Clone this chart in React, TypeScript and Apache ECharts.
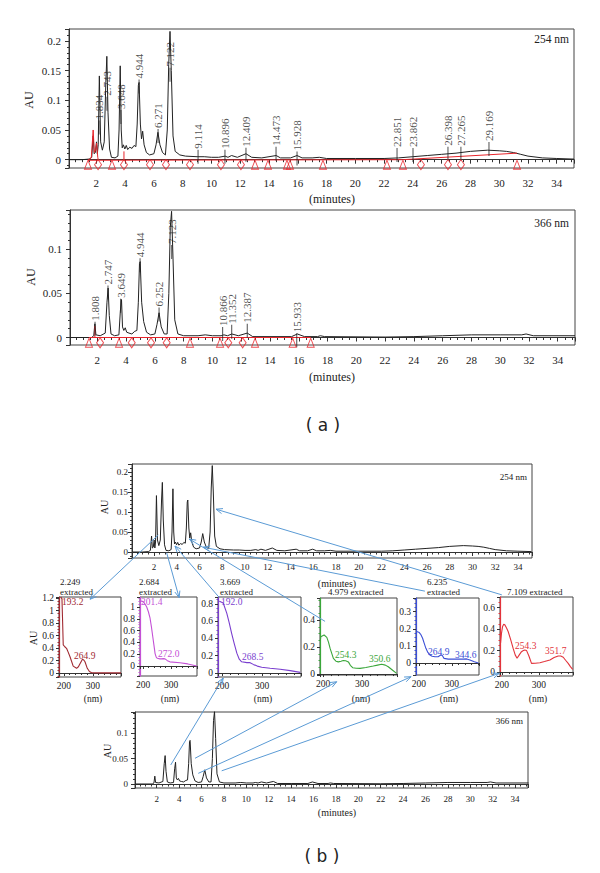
import React, { useEffect, useRef } from 'react';
import * as echarts from 'echarts';

// ---------------- data ----------------
// 254 nm chromatogram (minutes, AU)
const trace254: number[][] = [
  [0.1, 0.0], [1.0, 0.0], [1.5, 0.001], [1.68, 0.004], [1.78, 0.04], [1.85, 0.01], [1.93, 0.012], [2.01, 0.03],
  [2.07, 0.01], [2.13, 0.025], [2.21, 0.141], [2.3, 0.03], [2.42, 0.016], [2.55, 0.03], [2.66, 0.13], [2.73, 0.174],
  [2.81, 0.08], [2.92, 0.018], [3.05, 0.004], [3.3, 0.003], [3.5, 0.006], [3.58, 0.05], [3.66, 0.158], [3.73, 0.05],
  [3.8, 0.02], [3.88, 0.025], [3.98, 0.018], [4.08, 0.024], [4.18, 0.017], [4.32, 0.021], [4.48, 0.019], [4.62, 0.024],
  [4.75, 0.022], [4.84, 0.06], [4.92, 0.125], [4.97, 0.13], [5.06, 0.06], [5.14, 0.035], [5.22, 0.048], [5.32, 0.025],
  [5.48, 0.012], [5.7, 0.008], [6.0, 0.01], [6.15, 0.025], [6.28, 0.046], [6.42, 0.025], [6.6, 0.012], [6.8, 0.008],
  [6.93, 0.05], [7.03, 0.16], [7.12, 0.216], [7.21, 0.15], [7.33, 0.04], [7.48, 0.014], [7.8, 0.008], [8.2, 0.006],
  [9.0, 0.005], [9.5, 0.005], [10.0, 0.004], [10.5, 0.004], [10.95, 0.006], [11.15, 0.004], [11.4, 0.007], [11.8, 0.004],
  [12.4, 0.01], [12.8, 0.004], [13.5, 0.003], [14.5, 0.007], [14.8, 0.003], [15.5, 0.003], [15.95, 0.007], [16.3, 0.003],
  [17.0, 0.003], [17.5, 0.004], [18, 0.002], [20, 0.002], [22, 0.002], [23, 0.003], [24, 0.005], [25, 0.007],
  [26, 0.009], [27, 0.011], [28, 0.014], [29.2, 0.016], [30, 0.015], [30.5, 0.014], [31, 0.012], [31.5, 0.009],
  [32, 0.006], [33, 0.003], [34, 0.002], [35.2, 0.001],
];
const red254Peaks: number[][] = [
  [1.42, -0.001], [1.65, 0.003], [1.78, 0.05], [1.86, 0.012], [1.95, 0.016], [2.02, 0.028], [2.1, 0.004], [2.13, 0.0],
];
const red254Tick: number[][] = [[3.92, 0.0], [3.92, 0.014]];
const red254Base: number[][] = [[1.42, -0.001], [23.3, 0.0], [31.24, 0.011]];
const peakNames254 = ['1.834', '2.743', '3.648', '4.944', '6.271', '7.122', '9.114', '10.896', '12.409', '14.473', '15.928', '22.851', '23.862', '26.398', '27.265', '29.169'];
const peakTimes254 = [2.19, 2.74, 3.71, 4.97, 6.29, 7.12, 9.07, 10.94, 12.4, 14.49, 15.95, 22.9, 24.01, 26.44, 27.34, 29.29];
const peakTickAU254 = [0.054, 0.094, 0.072, 0.123, 0.04, 0.143, 0.005, 0.005, 0.0084, 0.01, 0.002, 0.008, 0.008, 0.01, 0.01, 0.018];
const triangles254 = [1.42, 3.09, 13.03, 13.93, 15.25, 15.46, 17.75, 22.2, 23.31, 31.24];
const diamonds254 = [2.12, 3.92, 5.73, 6.84, 8.51, 10.66, 12.05, 24.56, 26.44, 27.34];

// 366 nm chromatogram (minutes, AU)
const trace366: number[][] = [
  [0.1, 0], [1.6, 0], [1.75, 0.002], [1.83, 0.0155], [1.9, 0.003], [2.2, 0.002], [2.55, 0.005], [2.67, 0.04],
  [2.75, 0.056], [2.83, 0.025], [2.95, 0.004], [3.2, 0.002], [3.5, 0.003], [3.6, 0.03], [3.68, 0.043], [3.75, 0.012],
  [3.84, 0.008], [3.94, 0.011], [4.04, 0.006], [4.2, 0.005], [4.4, 0.004], [4.6, 0.007], [4.75, 0.008], [4.85, 0.04],
  [4.93, 0.084], [4.98, 0.086], [5.08, 0.04], [5.22, 0.018], [5.42, 0.006], [5.7, 0.003], [6.0, 0.004], [6.15, 0.015],
  [6.29, 0.028], [6.44, 0.012], [6.65, 0.004], [6.85, 0.004], [6.97, 0.05], [7.07, 0.125], [7.16, 0.143], [7.26, 0.09],
  [7.38, 0.02], [7.6, 0.004], [8.0, 0.002], [9.0, 0.002], [9.5, 0.003], [10.0, 0.002], [10.6, 0.002], [10.8, 0.003],
  [11.05, 0.002], [11.35, 0.004], [11.8, 0.002], [12.42, 0.005], [12.8, 0.001], [14, 0.001], [15.5, 0.001], [15.9, 0.004],
  [16.4, 0.001], [17.3, 0.001], [17.5, 0.002], [17.8, 0.001], [22, 0.0005], [24, 0.001], [26, 0.002], [28, 0.003],
  [30, 0.003], [31.5, 0.003], [31.8, 0.004], [32.3, 0.002], [35.2, 0.002],
];
const red366Tick: number[][] = [[1.83, 0.0], [1.83, 0.013]];
const red366Base: number[][] = [[1.42, 0.0], [16.83, 0.0]];
const peakNames366 = ['1.808', '2.747', '3.649', '4.944', '6.252', '7.123', '10.866', '11.352', '12.387', '15.933'];
const peakTimes366 = [1.84, 2.74, 3.62, 4.97, 6.29, 7.17, 10.71, 11.34, 12.42, 15.86];
const peakTickAU366 = [0.0099, 0.051, 0.036, 0.082, 0.026, 0.097, 0.004, 0.0065, 0.0076, -0.003];
const triangles366 = [1.42, 3.51, 8.44, 10.53, 12.96, 15.58, 16.83];
const diamonds366 = [2.19, 4.39, 5.73, 6.82, 11.1, 12.1];

// extracted UV spectra (nm, AU)
const spec2249: number[][] = [
  [189, 1.22], [191, 1.2], [193.2, 1.19], [195, 0.9], [197.6, 0.45], [203, 0.42], [209, 0.395], [215, 0.33], [221, 0.26],
  [232, 0.11], [243.6, 0.075], [250, 0.1], [255, 0.144], [264, 0.22], [268, 0.21], [272.7, 0.18], [280.6, 0.075],
  [288, 0.025], [295.6, 0.005], [320, 0.002], [397, 0.002],
];
const spec2684: number[][] = [
  [192, 1.1], [195, 1.1], [201.4, 1.09], [207, 1.05], [213, 1.0], [219, 0.92], [225, 0.81], [230, 0.66], [234.6, 0.5],
  [239, 0.35], [243, 0.21], [247, 0.15], [251, 0.13], [260, 0.12], [267, 0.12], [272, 0.125], [278.6, 0.12], [287, 0.09],
  [296, 0.07], [332, 0.055], [360, 0.035], [392, 0.0],
];
const spec3669: number[][] = [
  [193, 0.83], [195, 0.827], [203, 0.81], [212, 0.69], [218, 0.58], [224, 0.46], [230, 0.35], [237, 0.23], [243, 0.16],
  [249, 0.13], [262, 0.12], [270, 0.12], [278, 0.1], [288, 0.08], [299, 0.066], [320, 0.055], [345, 0.043], [370, 0.028],
  [395, 0.008],
];
const spec4979: number[][] = [
  [193, 0.25], [194, 0.276], [202.6, 0.289], [209.5, 0.272], [214, 0.235], [218, 0.19], [226.4, 0.116], [233, 0.095],
  [239, 0.09], [246, 0.095], [252, 0.1], [258, 0.098], [265, 0.09], [270, 0.065], [276, 0.047], [285, 0.043], [295, 0.042],
  [310, 0.048], [329, 0.059], [340, 0.066], [350.5, 0.072], [360, 0.066], [367.5, 0.054], [378, 0.03], [389, 0.005],
];
const spec6235: number[][] = [
  [192, 0.18], [193, 0.184], [201, 0.178], [206, 0.165], [211, 0.145], [216, 0.115], [221, 0.086], [227, 0.062],
  [233, 0.047], [240, 0.04], [248.5, 0.037], [258, 0.037], [264.9, 0.045], [268.8, 0.047], [272, 0.04], [276, 0.027],
  [289, 0.023], [310, 0.023], [334, 0.023], [344.6, 0.024], [354.5, 0.018], [368, 0.008], [380, 0.0],
];
const spec7109: number[][] = [
  [196.5, 0.27], [199, 0.36], [202, 0.425], [205, 0.445], [208, 0.44], [212, 0.415], [217, 0.378], [224, 0.3],
  [230.5, 0.22], [236, 0.16], [241, 0.128], [247, 0.16], [253, 0.19], [258, 0.2], [262, 0.205], [266.8, 0.2], [273, 0.15],
  [280, 0.081], [290, 0.082], [302.7, 0.087], [315, 0.098], [329.7, 0.112], [341, 0.135], [352, 0.15], [359, 0.15],
  [365.7, 0.138], [372, 0.11], [379, 0.081], [385, 0.05], [391, 0.025],
];
const spectra = [spec2249, spec2684, spec3669, spec4979, spec6235, spec7109];
const specColors = ['#a12a32', '#c451d6', '#7a3fcf', '#3aa63a', '#3b4fd6', '#e2333b'];
const specTitles = [['2.249', 'extracted'], ['2.684', 'extracted'], ['3.669', 'extracted'], ['4.979 extracted'], ['6.235', 'extracted'], ['7.109 extracted']];
const specPeakLabels = [['193.2', '264.9'], ['201.4', '272.0'], ['192.0', '268.5'], ['254.3', '350.6'], ['264.9', '344.6'], ['254.3', '351.7']];

// ---------------- layout / style ----------------
const SERIF = '"Liberation Serif", "Times New Roman", serif';
const SANS = '"DejaVu Sans", Verdana, sans-serif';
const AX = '#333';
const INK = '#222';
const RED = '#e8242a';
const BLUE = '#5b9bd5';

const gridBoxes = [
  [69, 29, 505, 139], [70, 210, 505, 135], [132, 464, 400, 94], [135, 712, 393, 76],
  [59, 597, 62, 80], [140, 597, 57, 79], [218, 597, 83, 80], [320, 598, 77, 77], [416, 598, 63, 77], [500, 597, 73, 79],
];
const chromY = [
  { min: -0.014, max: 0.22, split: 5, fs: 11, m: 8 },
  { min: -0.0085, max: 0.1445, split: 3, fs: 11, m: 8 },
  { min: -0.015, max: 0.22, split: 5, fs: 9, m: 4 },
  { min: -0.0079, max: 0.142, split: 3, fs: 9, m: 7 },
];
const chromX = [
  { min: 0.1, max: 35.2, fs: 11, m: 9 },
  { min: 0.1, max: 35.2, fs: 11, m: 9 },
  { min: 0.06, max: 35.24, fs: 9, m: 4 },
  { min: 0.06, max: 35.15, fs: 9, m: 6 },
];
const specX = [[183, 397], [189, 393], [190, 397], [192, 390], [191, 382], [195, 392]];
const specY = [
  { min: -0.064, max: 1.216, split: 6, step: 0.2 },
  { min: -0.17, max: 1.17, split: 6, step: 0.2 },
  { min: -0.046, max: 0.88, split: 4, step: 0.2 },
  { min: -0.007, max: 0.563, split: 3, step: 0.2 },
  { min: -0.07, max: 0.38, split: 4, step: 0.1 },
  { min: -0.037, max: 0.7, split: 4, step: 0.2 },
];

const stepFmt = (step: number) => (v: number) => {
  const k = v / step;
  return Math.abs(k - Math.round(k)) < 1e-6 ? String(parseFloat(v.toFixed(4))) : '';
};

function buildOption(): any {
  const grid = gridBoxes.map(([left, top, width, height]) => ({
    left, top, width, height, show: true, borderColor: '#444', borderWidth: 1, outerBoundsMode: 'none',
  }));
  const xAxis: any[] = [];
  const yAxis: any[] = [];
  chromX.forEach((c, i) => {
    xAxis.push({
      type: 'value', gridIndex: i, min: c.min, max: c.max, splitNumber: 17,
      axisLine: { show: true, lineStyle: { color: AX } },
      axisTick: { show: true, length: 4, lineStyle: { color: AX } },
      minorTick: { show: true, splitNumber: 4, length: 2.5, lineStyle: { color: AX } },
      splitLine: { show: false },
      axisLabel: { formatter: stepFmt(2), fontSize: c.fs, fontFamily: SERIF, color: INK, margin: c.m },
    });
    const y = chromY[i];
    yAxis.push({
      type: 'value', gridIndex: i, min: y.min, max: y.max, splitNumber: y.split,
      axisLine: { show: true, lineStyle: { color: AX } },
      axisTick: { show: true, length: 4, lineStyle: { color: AX } },
      minorTick: { show: true, splitNumber: 5, length: 2, lineStyle: { color: AX } },
      splitLine: { show: false },
      axisLabel: { formatter: stepFmt(0.05), fontSize: y.fs, fontFamily: SERIF, color: INK, margin: y.m },
    });
  });
  specX.forEach((r, k) => {
    const gi = 4 + k;
    xAxis.push({
      type: 'value', gridIndex: gi, min: r[0], max: r[1], splitNumber: 2,
      axisLine: { show: true, lineStyle: { color: AX } },
      axisTick: { show: true, length: 3, lineStyle: { color: AX } },
      minorTick: { show: true, splitNumber: 5, length: 2, lineStyle: { color: AX } },
      splitLine: { show: false },
      axisLabel: { formatter: stepFmt(100), fontSize: 9.5, fontFamily: SERIF, color: INK, margin: 4 },
    });
    const y = specY[k];
    yAxis.push({
      type: 'value', gridIndex: gi, min: y.min, max: y.max, splitNumber: y.split,
      axisLine: { show: true, lineStyle: { color: specColors[k], width: 1.2 } },
      axisTick: { show: true, length: 3, lineStyle: { color: AX } },
      minorTick: { show: true, splitNumber: 4, length: 1.5, lineStyle: { color: specColors[k] } },
      splitLine: { show: false },
      axisLabel: { formatter: stepFmt(y.step), fontSize: 9.5, fontFamily: SERIF, color: INK, margin: 5 },
    });
  });

  const line = (idx: number, data: number[][], color: string, width = 1, z = 2) => ({
    type: 'line', xAxisIndex: idx, yAxisIndex: idx, data, showSymbol: false, symbol: 'none',
    lineStyle: { color, width }, silent: true, z,
  });
  const labelSeries = (idx: number, times: number[], ticks: number[], names: string[]) => ({
    type: 'scatter', xAxisIndex: idx, yAxisIndex: idx, silent: true, z: 6,
    symbol: 'rect', symbolSize: [1, 14], itemStyle: { color: INK },
    data: times.map((t, i) => ({ value: [t, ticks[i]], label: { formatter: names[i] } })),
    label: {
      show: true, position: 'top', distance: 1, rotate: 90, align: 'left', verticalAlign: 'middle',
      fontSize: 11, fontFamily: SERIF, color: INK,
    },
  });
  const markers = (idx: number, times: number[], y: number, symbol: string, size: number[]) => ({
    type: 'scatter', xAxisIndex: idx, yAxisIndex: idx, silent: true, z: 7,
    symbol, symbolSize: size,
    itemStyle: { color: 'rgba(255,255,255,0)', borderColor: RED, borderWidth: 1 },
    data: times.map((t) => [t, y]),
  });

  const series: any[] = [
    line(0, trace254, INK),
    line(0, red254Base, RED, 1, 3),
    line(0, red254Peaks, RED, 1, 3),
    line(0, red254Tick, RED, 1, 3),
    labelSeries(0, peakTimes254, peakTickAU254, peakNames254),
    markers(0, triangles254, -0.0084, 'triangle', [7, 9]),
    markers(0, diamonds254, -0.0084, 'diamond', [7, 10]),
    line(1, trace366, INK),
    line(1, red366Base, RED, 1, 3),
    line(1, red366Tick, RED, 1, 3),
    labelSeries(1, peakTimes366, peakTickAU366, peakNames366),
    markers(1, triangles366, -0.006, 'triangle', [7, 9]),
    markers(1, diamonds366, -0.006, 'diamond', [7, 10]),
    line(2, trace254, INK),
    line(3, trace366, INK),
  ];
  spectra.forEach((s, k) => series.push(line(4 + k, s, specColors[k], 1.1)));

  return { animation: false, backgroundColor: '#fff', grid, xAxis, yAxis, series };
}

type TOpt = { size?: number; align?: string; color?: string; rot?: number; font?: string };
const txt = (x: number, y: number, text: string, o: TOpt = {}) => ({
  type: 'text', x, y, rotation: o.rot ? (o.rot * Math.PI) / 180 : 0, silent: true, z: 50,
  style: {
    text, fontSize: o.size ?? 11, fontFamily: o.font ?? SERIF, fill: o.color ?? INK,
    align: o.align ?? 'left', verticalAlign: 'middle',
  },
});

// arrows: [gridIndex, x, y] anchors in data space; head at 'from' or 'to'
const arrowDefs: { from: number[]; to: number[]; head: 'from' | 'to' }[] = [
  { from: [2, 2.37, 0.0425], to: [4, 290, 1.18], head: 'to' },
  { from: [2, 3.11, -0.002], to: [5, 329, 1.16], head: 'to' },
  { from: [2, 3.84, 0.015], to: [6, 192, 0.88], head: 'from' },
  { from: [2, 5.1, 0.0325], to: [7, 205, 0.39], head: 'from' },
  { from: [2, 6.33, 0.012], to: [8, 218, 0.42], head: 'from' },
  { from: [2, 7.45, 0.107], to: [9, 200, 0.72], head: 'from' },
  { from: [3, 3.25, 0.0375], to: [6, 203, -0.058], head: 'to' },
  { from: [3, 5.42, 0.0507], to: [7, 235, -0.057], head: 'to' },
  { from: [3, 5.71, 0.021], to: [8, 176, -0.08], head: 'to' },
  { from: [3, 7.8, 0.026], to: [9, 193, -0.012], head: 'to' },
];

function arrow(p1: number[], p2: number[], headAtEnd: boolean) {
  const tip = headAtEnd ? p2 : p1;
  const tail = headAtEnd ? p1 : p2;
  const ang = Math.atan2(tail[1] - tip[1], tail[0] - tip[0]);
  const L = 7;
  const a = 0.38;
  const h1 = [tip[0] + L * Math.cos(ang + a), tip[1] + L * Math.sin(ang + a)];
  const h2 = [tip[0] + L * Math.cos(ang - a), tip[1] + L * Math.sin(ang - a)];
  return [
    { type: 'line', silent: true, z: 100, shape: { x1: p1[0], y1: p1[1], x2: p2[0], y2: p2[1] }, style: { stroke: BLUE, lineWidth: 1 } },
    { type: 'polyline', silent: true, z: 100, shape: { points: [h1, tip, h2] }, style: { stroke: BLUE, fill: null, lineWidth: 1 } },
  ];
}

function buildGraphic(chart: any): any[] {
  const g: any[] = [];
  // panel (a)
  g.push(txt(569, 39, '254 nm', { size: 11.5, align: 'right' }));
  g.push(txt(29, 100, 'AU', { size: 12, align: 'center', rot: 90 }));
  g.push(txt(332, 199, '(minutes)', { size: 12, align: 'center' }));
  g.push(txt(569, 223, '366 nm', { size: 11.5, align: 'right' }));
  g.push(txt(31, 277, 'AU', { size: 12, align: 'center', rot: 90 }));
  g.push(txt(332, 377, '(minutes)', { size: 12, align: 'center' }));
  g.push(txt(323, 425, '( a )', { size: 17, align: 'center', font: SANS }));
  // panel (b)
  g.push(txt(527, 477, '254 nm', { size: 9, align: 'right' }));
  g.push(txt(104, 507, 'AU', { size: 10, align: 'center', rot: 90 }));
  g.push(txt(337, 583, '(minutes)', { size: 10, align: 'center' }));
  g.push(txt(523, 721, '366 nm', { size: 9, align: 'right' }));
  g.push(txt(107, 751, 'AU', { size: 10, align: 'center', rot: 90 }));
  g.push(txt(337, 812, '(minutes)', { size: 10, align: 'center' }));
  g.push(txt(322, 856, '( b )', { size: 17, align: 'center', font: SANS }));
  g.push(txt(33, 638, 'AU', { size: 10, align: 'center', rot: 90 }));
  // spectra titles
  const titlePos = [[60, 582], [139, 582], [220, 582], [328, 592], [427, 582], [507, 592]];
  specTitles.forEach((lines, k) => {
    lines.forEach((s, j) => g.push(txt(titlePos[k][0], titlePos[k][1] + j * 10, s, { size: 9 })));
  });
  const nmPos = [93, 170, 263, 361, 449, 538];
  nmPos.forEach((x) => g.push(txt(x, 699, '(nm)', { size: 9.5, align: 'center' })));
  const peakLabelPos = [
    [[62, 602], [74, 656]], [[141, 602], [158, 654]], [[221, 602], [242, 657]],
    [[335, 655], [369, 659]], [[428, 652], [455, 655]], [[515, 646], [545, 651]],
  ];
  specPeakLabels.forEach((labels, k) => {
    labels.forEach((s, j) => g.push(txt(peakLabelPos[k][j][0], peakLabelPos[k][j][1], s, { size: 9.5, color: specColors[k] })));
  });
  // arrows
  arrowDefs.forEach((d) => {
    const p1 = chart.convertToPixel({ gridIndex: d.from[0] }, [d.from[1], d.from[2]]);
    const p2 = chart.convertToPixel({ gridIndex: d.to[0] }, [d.to[1], d.to[2]]);
    if (p1 && p2) g.push(...arrow(p1, p2, d.head === 'to'));
  });
  return g;
}

export default function App() {
  const ref = useRef<HTMLDivElement>(null);
  useEffect(() => {
    const chart = echarts.init(ref.current as HTMLDivElement, null, { renderer: 'svg' });
    chart.setOption(buildOption());
    chart.setOption({ graphic: buildGraphic(chart) });
    return () => chart.dispose();
  }, []);
  return (
    <div
      ref={ref}
      style={{ position: 'fixed', left: 0, top: 0, width: 600, height: 873, background: '#fff' }}
    />
  );
}
